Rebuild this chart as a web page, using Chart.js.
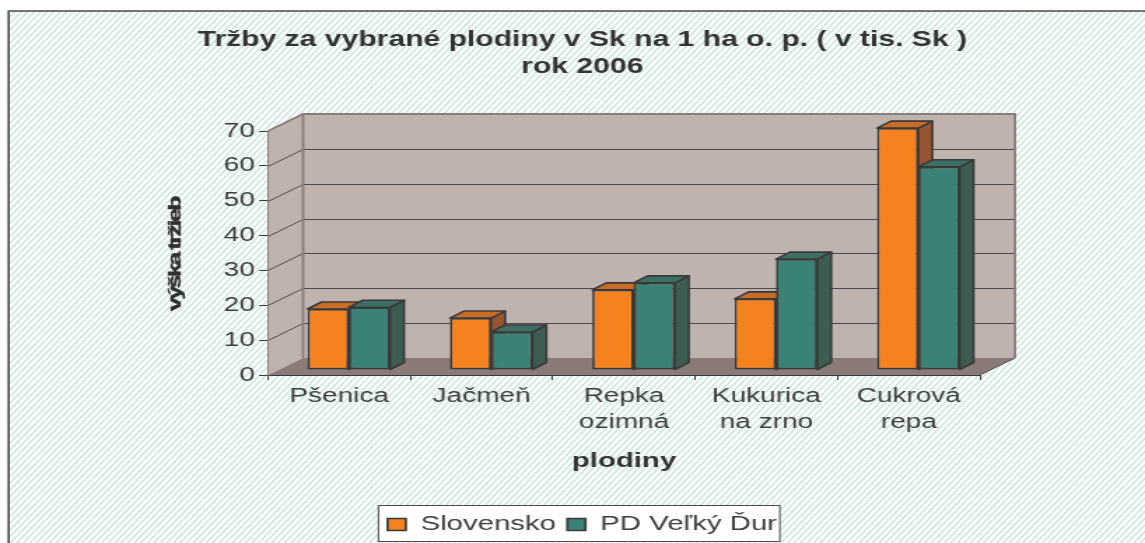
<!DOCTYPE html>
<html><head><meta charset="utf-8">
<style>html,body{margin:0;padding:0;background:#fff;overflow:hidden;width:1145px;height:543px}
canvas{display:block;transform-origin:0 0;transform:scaleX(1.39976)}</style>
<script src="https://cdn.jsdelivr.net/npm/chart.js@4"></script></head>
<body><canvas id="c" width="818" height="543"></canvas>
<script>
const categories=[['Pšenica'],['Jačmeň'],['Repka','ozimná'],['Kukurica','na zrno'],['Cukrová','repa']];
const slovensko=[17.5,14.9,23,20.4,69.4];
const pdVelkyDur=[18,10.9,25,31.8,58.3];
const seriesNames=['Slovensko','PD Veľký Ďur'];
const titleLines=['Tržby za vybrané plodiny v Sk na 1 ha o. p. ( v tis. Sk )','rok 2006'];
const yAxisTitle='výška tržieb';
const xAxisTitle='plodiny';

const INK='#3a3a3a',WALL='#bfb3b0',WALLEDGE='#8a7d7a',FLOOR='#8b7b78';
const DX=25,DY=17,BX=6.8,BY=5,DEPTHX=10,DEPTHY=7;
const faces=[{top:'#c86c26',side:'#975533'},{top:'#3d7064',side:'#3d5c52'}];

function hatch(ctx){
  const t=document.createElement('canvas');t.width=14;t.height=20;
  const g=t.getContext('2d');
  g.fillStyle='#fff';g.fillRect(0,0,14,20);
  g.strokeStyle='#c4e5d4';g.lineWidth=1.3;
  for(let k=-3;k<=3;k++){g.beginPath();g.moveTo(k*14/3,20);g.lineTo((k+3)*14/3,0);g.stroke();}
  return ctx.createPattern(t,'repeat');
}
function poly(ctx,p,fill,stroke,lw){
  ctx.beginPath();p.forEach((q,i)=>i?ctx.lineTo(q[0],q[1]):ctx.moveTo(q[0],q[1]));ctx.closePath();
  if(fill){ctx.fillStyle=fill;ctx.fill();}
  if(stroke){ctx.strokeStyle=stroke;ctx.lineWidth=lw;ctx.lineJoin='round';ctx.stroke();}
}
const scene={id:'scene',
  beforeDraw(chart){
    const ctx=chart.ctx,W=chart.width,H=chart.height,{left:l,right:r,top:t,bottom:b}=chart.chartArea,y=chart.scales.y;
    ctx.save();
    ctx.fillStyle='#fff';ctx.fillRect(0,0,W,H);
    ctx.fillStyle=hatch(ctx);ctx.fillRect(6.2,11,W,H);
    ctx.strokeStyle='#4a4a4a';ctx.lineWidth=1.6;
    ctx.beginPath();ctx.moveTo(6.2,H);ctx.lineTo(6.2,11);ctx.lineTo(W,11);ctx.stroke();
    poly(ctx,[[l,b],[l,t],[l+DX,t-DY],[l+DX,b-DY]],WALL);
    poly(ctx,[[l+DX,b-DY],[l+DX,t-DY],[r+DX,t-DY],[r+DX,b-DY]],WALL);
    ctx.strokeStyle='#4f4a49';ctx.lineWidth=1;
    y.ticks.forEach(k=>{
      if(k.value===0||k.value===70)return;
      const p=Math.round(y.getPixelForValue(k.value))+.5;
      ctx.beginPath();ctx.moveTo(l,p);ctx.lineTo(l+DX,p-DY);ctx.lineTo(r+DX,p-DY);ctx.stroke();
    });
    ctx.strokeStyle=WALLEDGE;ctx.lineWidth=1.8;
    ctx.beginPath();ctx.moveTo(l,t);ctx.lineTo(l+DX,t-DY);ctx.lineTo(r+DX,t-DY);ctx.lineTo(r+DX,b-DY);ctx.moveTo(l+DX,t-DY);ctx.lineTo(l+DX,b-DY);ctx.stroke();
    poly(ctx,[[l,b],[l+DX,b-DY],[r+DX,b-DY],[r,b]],FLOOR);
    ctx.strokeStyle='#4f4a49';ctx.lineWidth=1;
    ctx.beginPath();ctx.moveTo(r,b);ctx.lineTo(r+DX,b-DY);ctx.stroke();
    const h=chart.legend.legendHitBoxes,
      x0=Math.min(...h.map(e=>e.left))-6.5,x1=Math.max(...h.map(e=>e.left+e.width))+2;
    ctx.fillStyle='#fff';ctx.strokeStyle='#4a4a4a';ctx.lineWidth=1;
    ctx.fillRect(x0,505.5,x1-x0,36);ctx.strokeRect(x0,505.5,x1-x0,36);
    ctx.restore();
  },
  afterDraw(chart){
    const ctx=chart.ctx;
    ctx.save();ctx.translate(125,254.5);ctx.rotate(-Math.PI/2);ctx.scale(1.9,1);
    ctx.font='bold 13px "Liberation Sans", Arial, sans-serif';ctx.fillStyle='#2f2f2f';ctx.strokeStyle='#2f2f2f';ctx.lineWidth=.35;
    ctx.textAlign='center';ctx.textBaseline='middle';ctx.letterSpacing='-1.25px';
    ctx.fillText(yAxisTitle,0,0);ctx.strokeText(yAxisTitle,0,0);ctx.letterSpacing='0px';ctx.restore();
  },
  beforeDatasetsDraw(chart){
    const ctx=chart.ctx,n=categories.length;
    ctx.save();ctx.translate(BX,-BY);
    for(let i=0;i<n;i++)for(let d=0;d<2;d++){
      const e=chart.getDatasetMeta(d).data[i],L=e.x-e.width/2,R=e.x+e.width/2,T=e.y,B=e.base;
      poly(ctx,[[R,B],[R,T],[R+DEPTHX,T-DEPTHY],[R+DEPTHX,B-DEPTHY]],faces[d].side,INK,1.6);
      poly(ctx,[[L,T],[L+DEPTHX,T-DEPTHY],[R+DEPTHX,T-DEPTHY],[R,T]],faces[d].top,INK,1.6);
    }
    ctx.restore();
  },
  beforeDatasetDraw(chart){chart.ctx.save();chart.ctx.translate(BX,-BY);},
  afterDatasetDraw(chart){chart.ctx.restore();}
};
const F='"Liberation Sans", Arial, sans-serif',TXT='#3d3d3d';
new Chart(document.getElementById('c'),{
  type:'bar',
  data:{labels:categories,datasets:[
    {label:seriesNames[0],data:slovensko,backgroundColor:'#f5821f',borderColor:INK,borderWidth:1.7,borderSkipped:false,clip:false},
    {label:seriesNames[1],data:pdVelkyDur,backgroundColor:'#3a8275',borderColor:INK,borderWidth:1.7,borderSkipped:false,clip:false}
  ]},
  plugins:[scene],
  options:{
    responsive:false,animation:false,devicePixelRatio:1,
    layout:{padding:{left:14,right:0,top:0,bottom:-2}},
    datasets:{bar:{barPercentage:1,categoryPercentage:0.58}},
    plugins:{
      tooltip:{enabled:false},
      title:{display:true,text:titleLines,color:'#333',font:{family:F,size:21.5,weight:'bold',lineHeight:1.256},padding:{top:27,bottom:50}},
      legend:{position:'bottom',labels:{color:TXT,font:{family:F,size:21},boxWidth:13,boxHeight:12,padding:8}}
    },
    scales:{
      x:{
        offset:true,
        grid:{offset:true,drawOnChartArea:false,drawTicks:true,tickLength:5,color:INK},
        border:{display:true,color:INK,width:1},
        ticks:{color:TXT,font:{family:F,size:20,lineHeight:1.3},padding:3,maxRotation:0,minRotation:0,autoSkip:false},
        title:{display:true,text:xAxisTitle,color:'#333',font:{family:F,size:21,weight:'bold',lineHeight:1.2},padding:{top:0,bottom:32}},
        afterFit(s){s.height=131;}
      },
      y:{
        min:0,max:70,
        grid:{drawOnChartArea:false,drawTicks:true,tickLength:6.4,color:INK},
        border:{display:true,color:WALLEDGE,width:1},
        ticks:{stepSize:10,color:TXT,font:{family:F,size:20},padding:3},
        afterFit(s){s.width=177.5;}
      },
      yr:{
        position:'right',display:true,
        grid:{display:false},border:{display:false},ticks:{display:false},
        afterFit(s){s.width=117.9;}
      }
    }
  }
});
</script></body></html>
